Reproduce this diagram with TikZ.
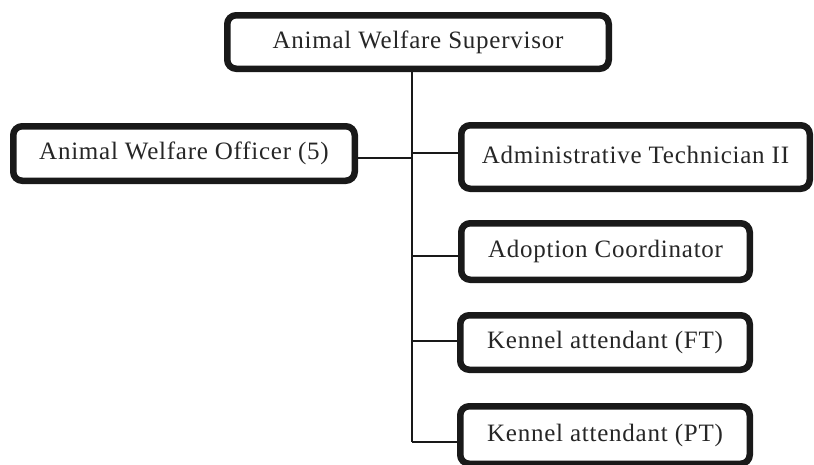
\documentclass[tikz,border=0pt]{standalone}
\usepackage{fontspec}
\setmainfont{Liberation Serif}[LetterSpace=3]
\begin{document}
\begin{tikzpicture}[x=1pt,y=-1pt,
  orgbox/.style={draw=black!90, line width=6.5pt, rounded corners=9pt, fill=white,
    inner sep=0pt, font=\fontsize{25}{28}\selectfont, text=black!85,
    text height=14pt, text depth=1.5pt},
  link/.style={draw=black!90, line width=1.8pt}]
\useasboundingbox (0,0) rectangle (814,464);
\fill[white] (0,0) rectangle (814,464);
\begin{scope}
\clip (0,0) rectangle (814,464);
\node[orgbox, minimum width=381.5pt, minimum height=53.5pt] (top) at (418,42) {Animal Welfare Supervisor};
\node[orgbox, minimum width=341.5pt, minimum height=54.5pt] (left) at (184,153.5) {Animal Welfare Officer (5)};
\node[orgbox, minimum width=348.5pt, minimum height=63.5pt] (admin) at (635.5,157) {Administrative Technician II};
\node[orgbox, minimum width=288.5pt, minimum height=56.5pt] (adopt) at (605.5,251.5) {Adoption Coordinator};
\node[orgbox, minimum width=289.5pt, minimum height=54.5pt] (kft) at (605,342.5) {Kennel attendant (FT)};
\node[orgbox, minimum width=289.5pt, minimum height=57.5pt] (kpt) at (605,435) {Kennel attendant (PT)};
\coordinate (jl) at (412,158);
\coordinate (ja) at (412,153);
\coordinate (jb) at (412,256);
\coordinate (jc) at (412,341);
\coordinate (jd) at (412,442);
\draw[link] (jd |- top.south) -- (jd);
\draw[link] (jl) -- (left.east |- jl);
\draw[link] (ja) -- (admin.west |- ja);
\draw[link] (jb) -- (adopt.west |- jb);
\draw[link] (jc) -- (kft.west |- jc);
\draw[link] (jd) -- (kpt.west |- jd);
\end{scope}
\end{tikzpicture}
\end{document}
